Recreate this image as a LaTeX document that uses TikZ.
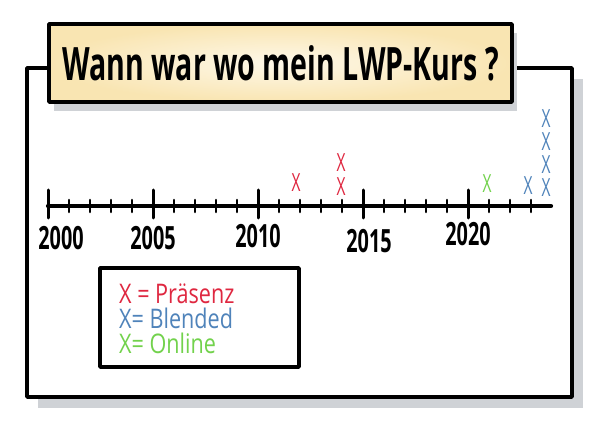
\documentclass[tikz,border=0pt]{standalone}
\usepackage{fontspec}
\usetikzlibrary{calc}
\newfontfamily\hand[FakeStretch=0.62]{Open Sans}
\newfontfamily\handwide[FakeStretch=0.8]{Open Sans}
\definecolor{cred}{HTML}{DF2740}
\definecolor{cblue}{HTML}{4F83BA}
\definecolor{cgreen}{HTML}{72D24C}
\definecolor{shadowgray}{HTML}{CFD2D6}
\definecolor{titleout}{HTML}{F9E5B2}
\definecolor{titlein}{HTML}{FEF8E9}
\begin{document}
\begin{tikzpicture}[x=1pt,y=-1pt,
  frameline/.style={draw=black,line width=3.4pt,line join=round},
  shadowbox/.style={fill=shadowgray,draw=none},
  yearlbl/.style={font=\hand\bfseries\fontsize{32}{32}\selectfont,inner sep=0pt},
  xmark/.style={font=\hand\fontsize{25}{25}\selectfont,inner sep=0pt},
  legtxt/.style={font=\handwide\fontsize{27}{27}\selectfont,inner sep=0pt,anchor=base west},
  majortick/.style={line width=3pt,line cap=round},
  minortick/.style={line width=2.6pt,line cap=round}]
\useasboundingbox (0,0) rectangle (600,422);
% outer frame with shadow
\node[shadowbox,minimum width=545pt,minimum height=329pt,inner sep=0pt] (frameshadow) at (310.5,243.5) {};
\node[frameline,fill=white,minimum width=545pt,minimum height=329pt,inner sep=0pt] (frame) at (299.5,232.5) {};
% title box with shadow
\node[shadowbox,minimum width=463pt,minimum height=78pt,inner sep=0pt] (titleshadow) at (285.5,72) {};
\node[frameline,inner color=titlein,outer color=titleout,minimum width=463pt,minimum height=78pt,inner sep=0pt,
  font=\hand\bfseries\fontsize{46}{46}\selectfont] (title) at (280.5,63) {Wann war wo mein LWP-Kurs ?};
% timeline
\coordinate (axstart) at (48,206);
\coordinate (axend) at (551,206);
\draw[line width=4.2pt,line cap=round] (axstart) -- (axend);
\foreach \yr in {0,5,10,15,20}{
  \coordinate (maj\yr) at ({48+21*\yr},206);
  \draw[majortick] ($(maj\yr)+(0,-16)$) -- ($(maj\yr)+(0,12)$);
}
\foreach \yr in {1,2,3,4,6,7,8,9,11,12,13,14,16,17,18,19,21,22,23}{
  \coordinate (min\yr) at ({48+21*\yr},206);
  \draw[minortick] ($(min\yr)+(0,-6)$) -- ($(min\yr)+(0,6)$);
}
\node[yearlbl] (y2000) at (61,238) {2000};
\node[yearlbl] (y2005) at (153,238) {2005};
\node[yearlbl] (y2010) at (258,236) {2010};
\node[yearlbl] (y2015) at (369,241) {2015};
\node[yearlbl] (y2020) at (468,234) {2020};
% marks
\node[xmark,text=cred] (r1) at (296,183) {X};
\node[xmark,text=cred] (r2) at (341,163) {X};
\node[xmark,text=cred] (r3) at (341,187) {X};
\node[xmark,text=cgreen] (g1) at (487,184) {X};
\node[xmark,text=cblue] (b1) at (528,186) {X};
\node[xmark,text=cblue] (b2) at (546,119) {X};
\node[xmark,text=cblue] (b3) at (546,142) {X};
\node[xmark,text=cblue] (b4) at (546,165) {X};
\node[xmark,text=cblue] (b5) at (546,188) {X};
% legend
\node[frameline,fill=white,minimum width=199pt,minimum height=99pt,inner sep=0pt] (legend) at (199.5,317.5) {};
\node[legtxt,text=cred] (lp) at (119,303) {X = Präsenz};
\node[legtxt,text=cblue] (lb) at (119,328) {X= Blended};
\node[legtxt,text=cgreen] (lo) at (119,353) {X= Online};
\end{tikzpicture}
\end{document}
